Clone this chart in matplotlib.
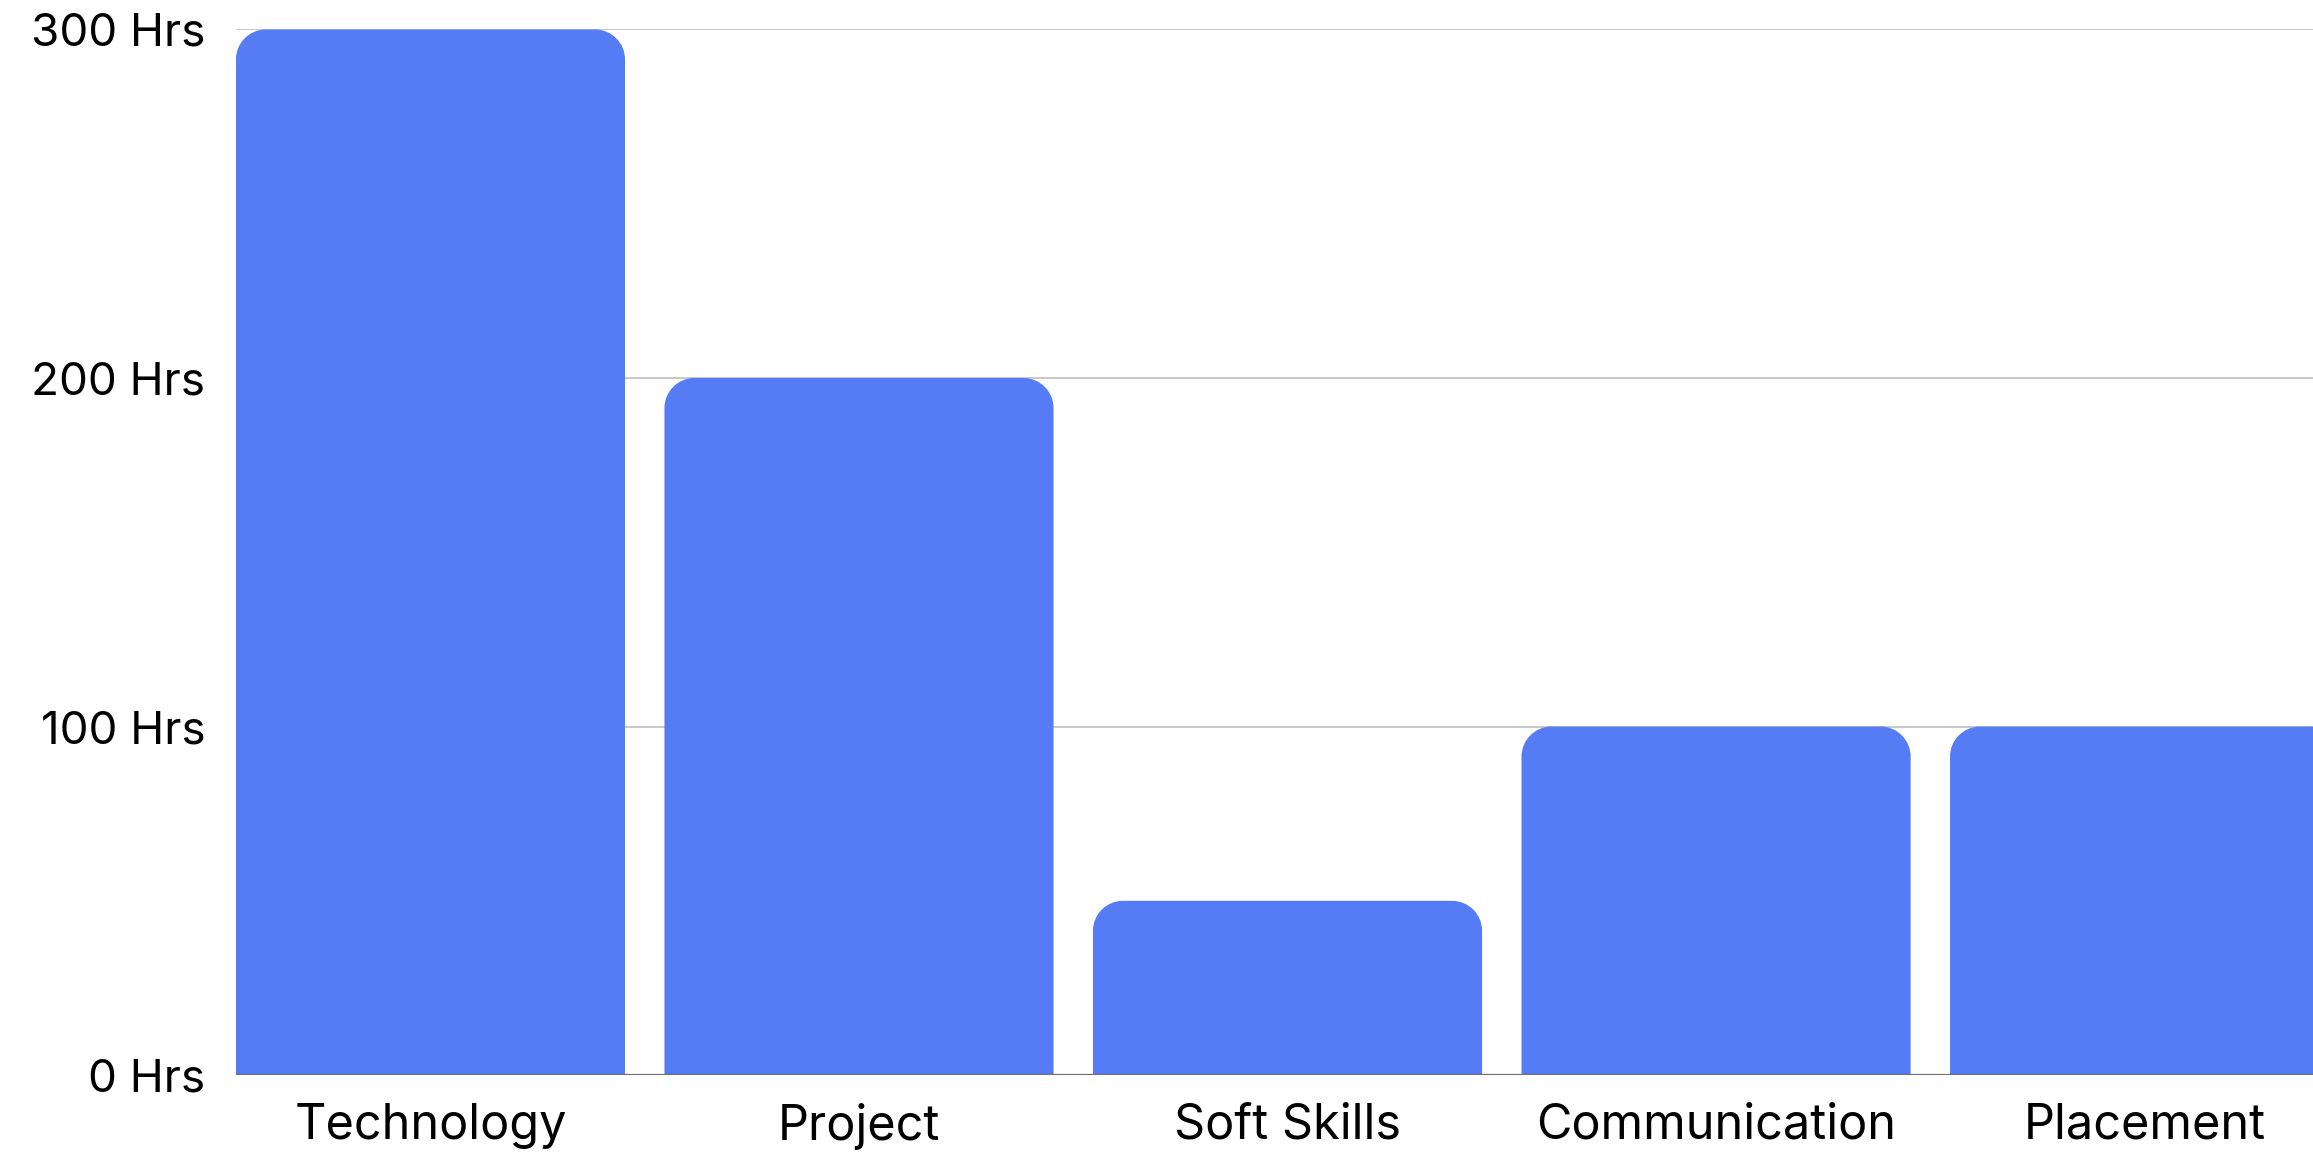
import numpy as np
import matplotlib.pyplot as plt
from matplotlib.path import Path
from matplotlib.patches import PathPatch

# chart data
categories = ['Technology', 'Project', 'Soft Skills', 'Communication', 'Placement']
hours = [300, 200, 50, 100, 100]
y_ticks = [0, 100, 200, 300]
y_labels = ['0 Hrs', '100 Hrs', '200 Hrs', '300 Hrs']

bar_color = '#557bf5'
bar_width = 0.908
corner_px = 30

plt.rcParams['font.family'] = ['Inter', 'DejaVu Sans']

fig = plt.figure(figsize=(23.13, 11.56), dpi=100)
ax = fig.add_axes([0.102, 0.07, 0.898, 0.9045])

x = np.arange(len(categories))
ax.set_xlim(-bar_width / 2, 4.393)
ax.set_ylim(0, 300)

# pixel -> data scale for rounded corners
bbox = ax.get_window_extent()
rx = corner_px * (ax.get_xlim()[1] - ax.get_xlim()[0]) / bbox.width
ry = corner_px * 300 / bbox.height


def rounded_top_bar(xc, h, w):
    x0, x1 = xc - w / 2, xc + w / 2
    k = 0.5523
    verts = [
        (x0, 0), (x0, h - ry),
        (x0, h - ry + k * ry), (x0 + rx - k * rx, h), (x0 + rx, h),
        (x1 - rx, h),
        (x1 - rx + k * rx, h), (x1, h - ry + k * ry), (x1, h - ry),
        (x1, 0), (x0, 0),
    ]
    codes = [Path.MOVETO, Path.LINETO,
             Path.CURVE4, Path.CURVE4, Path.CURVE4,
             Path.LINETO,
             Path.CURVE4, Path.CURVE4, Path.CURVE4,
             Path.LINETO, Path.CLOSEPOLY]
    return PathPatch(Path(verts, codes), facecolor=bar_color, edgecolor='none', zorder=2)


for xc, h in zip(x, hours):
    ax.add_patch(rounded_top_bar(xc, h, bar_width))

# grid lines and baseline
for t in y_ticks[1:]:
    ax.axhline(t, color='#c4c4c4', linewidth=1.3, zorder=1)
ax.axhline(0, color='#6e6e6e', linewidth=1.6, zorder=3)

for s in ax.spines.values():
    s.set_visible(False)

ax.set_xticks(x)
ax.set_xticklabels(categories, fontsize=35)
ax.set_yticks(y_ticks)
ax.set_yticklabels(y_labels, fontsize=33)
ax.tick_params(axis='both', length=0)
ax.tick_params(axis='x', pad=20)
ax.tick_params(axis='y', pad=22)

fig.savefig('out.png', dpi=100)
